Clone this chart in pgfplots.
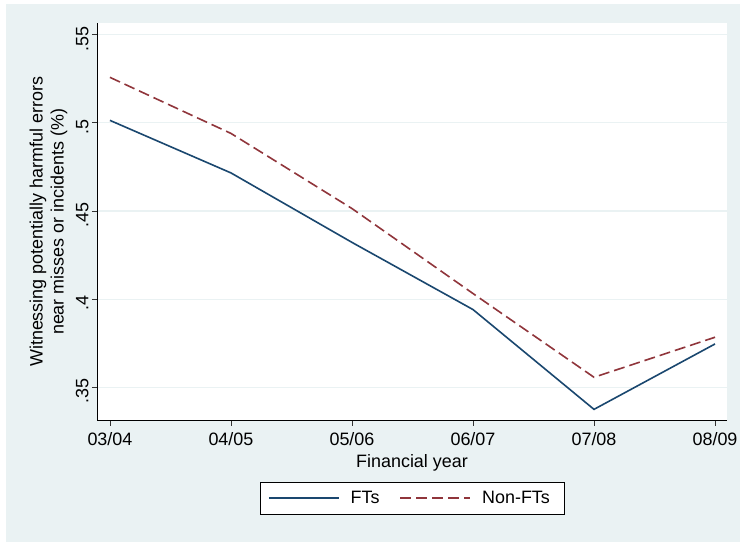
\documentclass[border=0pt]{standalone}
\usepackage{pgfplots}
\pgfplotsset{compat=1.18}
\usepackage{fontspec}
\setmainfont{Liberation Sans}
\definecolor{bgc}{RGB}{234,242,243}
\definecolor{gridc}{RGB}{234,242,243}
\definecolor{navy}{RGB}{26,71,111}
\definecolor{maroon}{RGB}{144,53,59}
\newcommand\fs{\fontsize{18}{21}\selectfont}
\begin{document}
\begin{tikzpicture}
\path[use as bounding box] (0bp,0bp) rectangle (740bp,542bp);
\fill[bgc] (6bp,0bp) rectangle (740bp,538bp);
\begin{axis}[
  at={(97bp,121bp)}, anchor=south west,
  width=630bp, height=398.3bp, scale only axis,
  xmin=-0.107, xmax=5.099, ymin=0.3309, ymax=0.5568,
  axis x line*=bottom, axis y line*=left,
  axis line style={line width=1bp, black},
  xtick={0,1,2,3,4,5},
  xticklabels={{03/04},{04/05},{05/06},{06/07},{07/08},{08/09}},
  ytick={0.35,0.4,0.45,0.5,0.55},
  yticklabels={{.35},{.4},{.45},{.5},{.55}},
  tick align=outside, major tick length=5bp,
  tick style={color=black!80, line width=0.8bp},
  ymajorgrids, grid style={color=gridc, line width=1.2bp},
  axis background/.style={fill=white},
  xticklabel style={font=\fs, yshift=-3bp},
  yticklabel style={font=\fs, rotate=90, anchor=south, xshift=-4bp},
  ylabel={Witnessing potentially harmful errors\\near misses or incidents (\%)},
  ylabel style={at={(axis description cs:-0.077,0.5)}, anchor=center, align=center, font=\fs},
  xlabel={Financial year},
  xlabel style={at={(axis description cs:0.5,0)}, yshift=-42bp, anchor=center, font=\fs},
  legend columns=2,
  legend style={at={(0.5,0)}, anchor=north, yshift=-60.7bp, draw=black, line width=0.8bp, fill=white, font=\fs,
    inner xsep=8bp, inner ysep=5bp, nodes={inner xsep=6bp, inner ysep=4bp},
    /tikz/every odd column/.append style={column sep=5bp},
    /tikz/every even column/.append style={column sep=14bp}},
  legend image code/.code={\draw[#1] (0bp,0bp) -- (70bp,0bp);},
]
\addplot[color=navy, line width=1.6bp] coordinates {(0,0.5014)(1,0.4716)(2,0.4322)(3,0.3941)(4,0.3375)(5,0.3746)};
\addlegendentry{FTs}
\addplot[color=maroon, line width=1.6bp, dash pattern=on 11bp off 5bp] coordinates {(0,0.5258)(1,0.4940)(2,0.4514)(3,0.4032)(4,0.3557)(5,0.3784)};
\addlegendentry{Non-FTs}
\end{axis}
\end{tikzpicture}
\end{document}
